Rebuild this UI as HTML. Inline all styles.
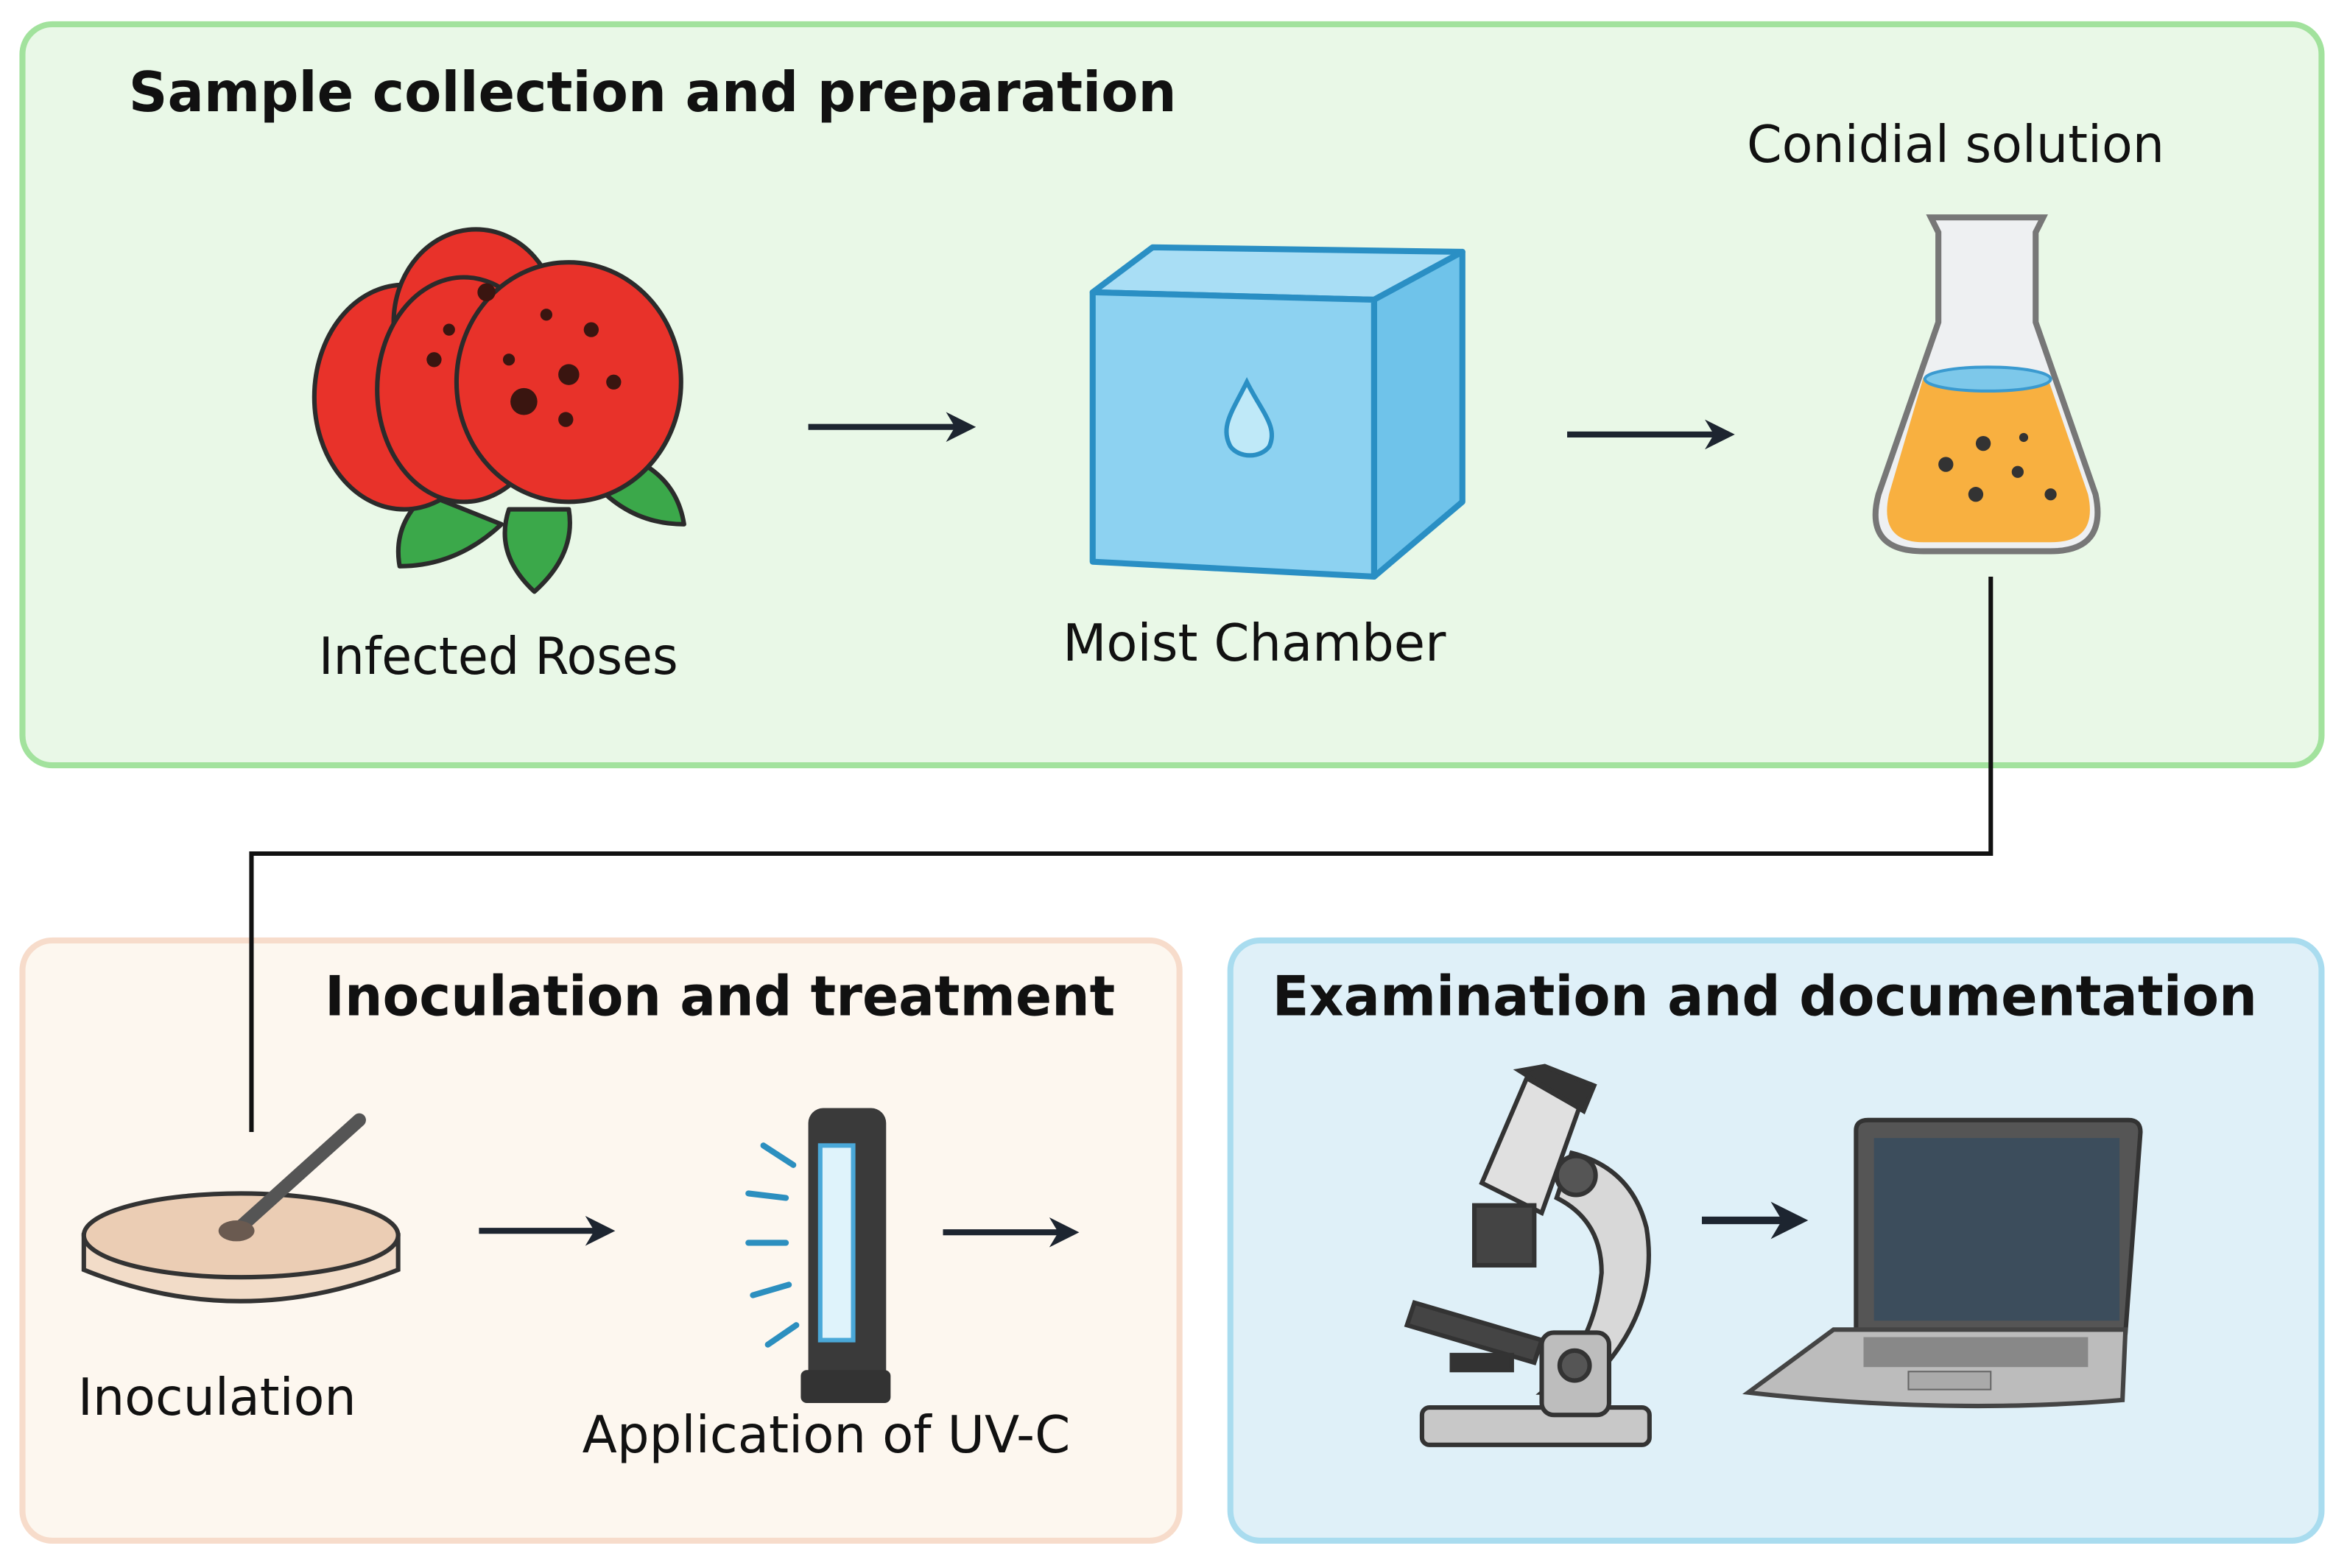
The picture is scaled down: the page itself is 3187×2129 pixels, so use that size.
<!DOCTYPE html>
<html><head><meta charset="utf-8"><style>
html,body{margin:0;padding:0;background:#fff;}
svg{display:block;}
text{font-family:"DejaVu Sans","Liberation Sans",sans-serif;fill:#111;}
</style></head><body>
<svg width="3187" height="2129" viewBox="0 0 1568 1047" xmlns="http://www.w3.org/2000/svg">
<defs>
<marker id="ah" viewBox="0 0 10 10" refX="8" refY="5" markerWidth="5" markerHeight="5" orient="auto"><path d="M0,0 L10,5 L0,10 L3,5 z" fill="#1d2530"/></marker>
</defs>
<rect x="15" y="16" width="1536" height="495" rx="20" fill="#e9f8e7" stroke="#a2e29d" stroke-width="4"/>
<rect x="15" y="628" width="773" height="401" rx="20" fill="#fdf7ef" stroke="#f7dccb" stroke-width="4"/>
<rect x="822" y="628" width="729" height="401" rx="20" fill="#dff0f8" stroke="#a9dcef" stroke-width="4"/>

<text x="86" y="74" font-size="37" font-weight="bold" textLength="700" lengthAdjust="spacingAndGlyphs">Sample collection and preparation</text>
<text x="1167" y="108" font-size="34" textLength="279" lengthAdjust="spacingAndGlyphs">Conidial solution</text>
<text x="213" y="450" font-size="34" textLength="240" lengthAdjust="spacingAndGlyphs">Infected Roses</text>
<text x="710" y="441" font-size="34" textLength="256" lengthAdjust="spacingAndGlyphs">Moist Chamber</text>
<text x="217" y="678" font-size="37" font-weight="bold" textLength="528" lengthAdjust="spacingAndGlyphs">Inoculation and treatment</text>
<text x="850" y="678" font-size="37" font-weight="bold" textLength="658" lengthAdjust="spacingAndGlyphs">Examination and documentation</text>
<text x="52" y="945" font-size="34" textLength="186" lengthAdjust="spacingAndGlyphs">Inoculation</text>
<text x="389" y="970" font-size="34" textLength="326" lengthAdjust="spacingAndGlyphs">Application of UV-C</text>

<g stroke="#1d2530" stroke-width="4" fill="none" marker-end="url(#ah)">
<line x1="540" y1="285" x2="648" y2="285"/>
<line x1="1047" y1="290" x2="1155" y2="290"/>
<line x1="320" y1="822" x2="407" y2="822"/>
<line x1="630" y1="823" x2="717" y2="823"/>
<line x1="1137" y1="815" x2="1203" y2="815" stroke-width="5"/>
</g>
<polyline points="1330,385 1330,570 168,570 168,756" fill="none" stroke="#111" stroke-width="3"/>

<!-- Rose -->
<g stroke="#2b2b2b" stroke-width="3" stroke-linejoin="round">
<path d="M285,330 Q262,350 267,378 Q305,378 335,350 Z" fill="#3ba84a"/>
<path d="M340,340 Q330,370 357,395 Q385,370 380,340 Z" fill="#3ba84a"/>
<path d="M395,320 Q420,350 457,350 Q452,318 420,305 Z" fill="#3ba84a"/>
<ellipse cx="270" cy="265" rx="60" ry="75" fill="#e8322a"/>
<ellipse cx="318" cy="215" rx="55" ry="62" fill="#e8322a"/>
<ellipse cx="310" cy="260" rx="58" ry="75" fill="#e8322a"/>
<ellipse cx="380" cy="255" rx="75" ry="80" fill="#e8322a"/>
</g>
<g fill="#3a1510">
<circle cx="350" cy="268" r="9"/><circle cx="380" cy="250" r="7"/><circle cx="395" cy="220" r="5"/><circle cx="365" cy="210" r="4"/><circle cx="410" cy="255" r="5"/><circle cx="325" cy="195" r="6"/><circle cx="300" cy="220" r="4"/><circle cx="290" cy="240" r="5"/><circle cx="340" cy="240" r="4"/><circle cx="378" cy="280" r="5"/>
</g>

<!-- Cube -->
<g stroke="#2a8fc4" stroke-width="4" stroke-linejoin="round">
<path d="M730,195 L770,165 L977,168 L918,200 Z" fill="#a9def5"/>
<path d="M918,200 L977,168 L977,335 L918,385 Z" fill="#6fc3ea"/>
<path d="M730,195 L918,200 L918,385 L730,375 Z" fill="#8dd2f1"/>
</g>
<path d="M833,255 C823,275 815,285 822,298 C828,306 842,306 848,298 C854,285 843,275 833,255 Z" fill="#bfe9f8" stroke="#2a8fc4" stroke-width="3"/>

<!-- Flask -->
<path d="M1290,145 L1365,145 L1360,155 L1360,215 L1400,330 Q1408,368 1370,368 L1285,368 Q1245,368 1255,330 L1295,215 L1295,155 Z" fill="#eef0f2" stroke="#777" stroke-width="4"/>
<path d="M1285,252 L1368,252 L1395,330 Q1402,362 1370,362 L1285,362 Q1255,362 1262,330 Z" fill="#f8b040"/>
<ellipse cx="1328" cy="253" rx="42" ry="8" fill="#7dc8ea" stroke="#3a9ad0" stroke-width="2"/>
<g fill="#333"><circle cx="1300" cy="310" r="5"/><circle cx="1325" cy="296" r="5"/><circle cx="1348" cy="315" r="4"/><circle cx="1320" cy="330" r="5"/><circle cx="1370" cy="330" r="4"/><circle cx="1352" cy="292" r="3"/></g>

<!-- Petri dish -->
<path d="M56,825 L56,848 Q160,890 266,848 L266,825 Z" fill="#f2dcc8" stroke="#333" stroke-width="3"/>
<ellipse cx="161" cy="825" rx="105" ry="28" fill="#ebcdb4" stroke="#333" stroke-width="3"/>
<line x1="160" y1="820" x2="240" y2="748" stroke="#555" stroke-width="9" stroke-linecap="round"/>
<ellipse cx="158" cy="822" rx="12" ry="7" fill="#6a5a50"/>

<!-- UV lamp -->
<rect x="540" y="740" width="52" height="195" rx="10" fill="#3a3a3a"/>
<rect x="548" y="765" width="22" height="130" fill="#dff3fb" stroke="#4aa8d8" stroke-width="3"/>
<rect x="535" y="915" width="60" height="22" rx="4" fill="#333"/>
<g stroke="#2c8fbf" stroke-width="4" stroke-linecap="round">
<line x1="510" y1="765" x2="530" y2="778"/><line x1="500" y1="797" x2="525" y2="800"/><line x1="500" y1="830" x2="525" y2="830"/><line x1="503" y1="865" x2="527" y2="858"/><line x1="513" y1="898" x2="532" y2="885"/>
</g>

<!-- Microscope -->
<g stroke="#333" stroke-width="3">
<rect x="950" y="940" width="152" height="25" rx="5" fill="#c8c8c8"/>
<path d="M1055,930 Q1110,880 1100,820 Q1090,780 1050,770 L1040,800 Q1070,815 1070,850 Q1065,900 1030,930 Z" fill="#d8d8d8"/>
<rect x="1030" y="890" width="45" height="55" rx="8" fill="#bdbdbd"/>
<circle cx="1052" cy="912" r="10" fill="#555"/>
<path d="M945,870 L1030,895 L1025,910 L940,885 Z" fill="#444"/>
<path d="M990,790 L1020,720 L1055,740 L1030,810 Z" fill="#e0e0e0"/>
<path d="M1015,715 L1032,712 L1065,725 L1058,742 Z" fill="#333"/>
<rect x="985" y="805" width="40" height="40" fill="#444"/>
<circle cx="1053" cy="785" r="13" fill="#555"/>
<rect x="970" y="905" width="40" height="10" fill="#333"/>
</g>

<!-- Laptop -->
<path d="M1240,755 Q1240,748 1248,748 L1422,748 Q1430,748 1430,756 L1420,890 L1240,890 Z" fill="#555" stroke="#333" stroke-width="3"/>
<rect x="1252" y="760" width="164" height="122" fill="#3c4d5c"/>
<path d="M1225,888 L1420,888 L1418,935 Q1300,945 1168,930 Z" fill="#bcbcbc" stroke="#444" stroke-width="3"/>
<rect x="1245" y="893" width="150" height="20" fill="#888"/>
<rect x="1275" y="916" width="55" height="12" fill="#aaa" stroke="#666"/>
</svg>
</body></html>
